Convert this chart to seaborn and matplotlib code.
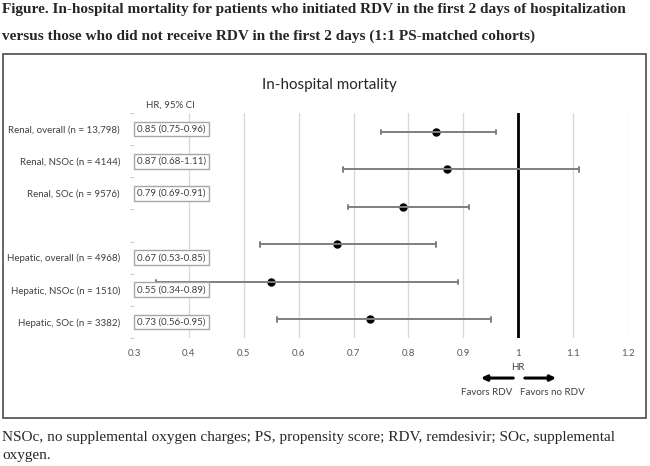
import matplotlib
matplotlib.use("Agg")
import matplotlib.pyplot as plt
import seaborn as sns
import pandas as pd
import numpy as np
from matplotlib.patches import Rectangle
from matplotlib.ticker import FixedLocator

# ---------------- data ----------------
groups = ["Renal, overall (n = 13,798)", "Renal, NSOc (n = 4144)", "Renal, SOc (n = 9576)",
          "Hepatic, overall (n = 4968)", "Hepatic, NSOc (n = 1510)", "Hepatic, SOc (n = 3382)"]
hr = [0.85, 0.87, 0.79, 0.67, 0.55, 0.73]
ci_low = [0.75, 0.68, 0.69, 0.53, 0.34, 0.56]
ci_high = [0.96, 1.11, 0.91, 0.85, 0.89, 0.95]
# label slots on the left (one empty slot between renal and hepatic)
row_labels = ["Renal, overall (n = 13,798)", "Renal, NSOc (n = 4144)", "Renal, SOc (n = 9576)", "",
              "Hepatic, overall (n = 4968)", "Hepatic, NSOc (n = 1510)", "Hepatic, SOc (n = 3382)"]
box_texts = ["0.85 (0.75-0.96)", "0.87 (0.68-1.11)", "0.79 (0.69-0.91)", "",
             "0.67 (0.53-0.85)", "0.55 (0.34-0.89)", "0.73 (0.56-0.95)"]
x_ticks = [0.3, 0.4, 0.5, 0.6, 0.7, 0.8, 0.9, 1.0, 1.1, 1.2]
x_tick_labels = ["0.3", "0.4", "0.5", "0.6", "0.7", "0.8", "0.9", "1", "1.1", "1.2"]
title = "In-hospital mortality"
caption = ["Figure. In-hospital mortality for patients who initiated RDV in the first 2 days of hospitalization",
           "versus those who did not receive RDV in the first 2 days (1:1 PS-matched cohorts)"]
footnote = ["NSOc, no supplemental oxygen charges; PS, propensity score; RDV, remdesivir; SOc, supplemental",
            "oxygen."]

# long form: low / estimate / high per group -> median = HR, 100% interval = CI
df = pd.DataFrame({
    "group": np.repeat(groups, 3),
    "value": np.ravel(np.column_stack([ci_low, hr, ci_high])),
})

sns.set_theme(style="white")
plt.rcParams["font.family"] = ["Lato", "DejaVu Sans"]

W, H = 650, 466
fig = plt.figure(figsize=(6.5, 4.66), dpi=100)
fig.patch.set_facecolor("white")

def fx(px):
    return px / W

def fy(py):
    return 1 - py / H

FS = 7.0
ax = fig.add_axes([fx(134), fy(338), fx(628) - fx(134), fy(113) - fy(338)])
ax.set_xlim(0.3, 1.2)
ax.set_ylim(len(row_labels) - 0.5, -0.5)
ax.set_xticks(x_ticks, x_tick_labels)
ax.set_yticks(range(len(row_labels)), row_labels)
ax.yaxis.set_minor_locator(FixedLocator(np.arange(-0.5, len(row_labels), 1.0)))
ax.tick_params(axis="y", which="major", length=0, pad=10, labelsize=FS, labelcolor="#404040")
ax.tick_params(axis="y", which="minor", length=3, width=0.8, color="#cfcfcf", left=True)
ax.tick_params(axis="x", length=0, pad=8, labelsize=FS, labelcolor="#595959")
for s in ax.spines.values():
    s.set_visible(False)
ax.grid(axis="x", color="#d9d9d9", lw=1)
ax.grid(axis="y", visible=False)
ax.get_xgridlines()[0].set_visible(False)
ax.set_axisbelow(True)

ax2 = ax.twinx()
sns.pointplot(data=df, x="value", y="group", order=groups, estimator="median",
              errorbar=("pi", 100), color="black", linestyle="none", marker="o",
              markersize=4, capsize=0.12,
              err_kws={"color": "#7f7f7f", "linewidth": 1.4}, ax=ax2)
ax2.set_xlim(0.3, 1.2)
ax2.set_yticks([])
ax2.set_ylabel("")
ax2.set_xlabel("")
for s in ax2.spines.values():
    s.set_visible(False)
ax2.axvline(1.0, color="black", lw=2, zorder=1)

# value boxes (drawn above error bars)
for i, t in enumerate(box_texts):
    if t:
        ax2.text(0.306, i, t, transform=ax.transData, ha="left", va="center",
                 fontsize=FS, color="#404040", zorder=10,
                 bbox=dict(boxstyle="square,pad=0.3", fc="white", ec="#a6a6a6", lw=1))

fig.text(fx(170), fy(105), "HR, 95% CI", ha="center", va="center", fontsize=FS, color="#404040")
fig.text(fx(329), fy(85), title, ha="center", va="center", fontsize=10.9, color="#262626")

# HR axis annotation and arrows
xt = ax.get_xaxis_transform()
ax.text(1.0, -0.129, "HR", transform=xt, ha="center", va="center", fontsize=FS, color="#404040")
ax.annotate("", xy=(0.927, -0.178), xytext=(0.996, -0.178), xycoords=xt, textcoords=xt,
            arrowprops=dict(arrowstyle="-|>", lw=2.2, color="black", mutation_scale=8))
ax.annotate("", xy=(1.074, -0.178), xytext=(1.007, -0.178), xycoords=xt, textcoords=xt,
            arrowprops=dict(arrowstyle="-|>", lw=2.2, color="black", mutation_scale=8))
ax.text(0.943, -0.244, "Favors RDV", transform=xt, ha="center", va="center", fontsize=FS, color="#404040")
ax.text(1.063, -0.244, "Favors no RDV", transform=xt, ha="center", va="center", fontsize=FS, color="#404040")

# frame
fig.patches.append(Rectangle((fx(3), fy(418)), fx(646) - fx(3), fy(54) - fy(418),
                             transform=fig.transFigure, fill=False, ec="#595959", lw=1.3))

# caption and footnote
serif = ["Liberation Serif", "DejaVu Serif"]
fig.text(fx(2), fy(9), caption[0], ha="left", va="center", fontsize=11, fontweight="bold", family=serif)
fig.text(fx(2), fy(36), caption[1], ha="left", va="center", fontsize=11, fontweight="bold", family=serif)
fig.text(fx(2), fy(437), footnote[0], ha="left", va="center", fontsize=11, family=serif)
fig.text(fx(2), fy(456), footnote[1], ha="left", va="center", fontsize=11, family=serif)

fig.savefig("out.png", dpi=100)
